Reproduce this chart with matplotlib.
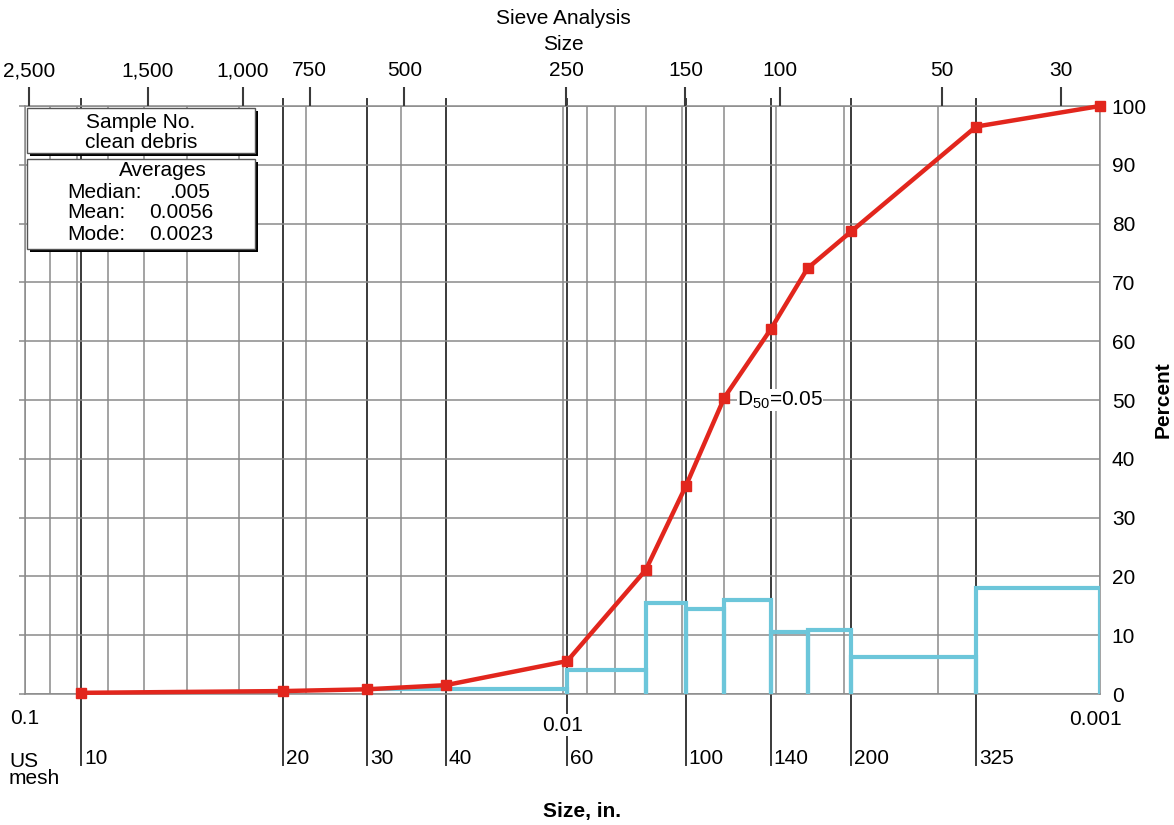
import numpy as np
import matplotlib.pyplot as plt
from matplotlib.ticker import LogLocator, NullLocator
from matplotlib.patches import Rectangle
from matplotlib.transforms import offset_copy

plt.rcParams['font.family'] = ['Liberation Sans', 'DejaVu Sans']
plt.rcParams['mathtext.fontset'] = 'custom'
plt.rcParams['mathtext.rm'] = 'Liberation Sans'
plt.rcParams['mathtext.it'] = 'Liberation Sans:italic'

# cumulative curve: particle size (in.) vs percent
size_in = [0.0787, 0.0331, 0.0231, 0.0165, 0.0098, 0.007, 0.0059, 0.005,
           0.0041, 0.0035, 0.0029, 0.0017, 0.001]
cum_pct = [0.2, 0.5, 0.8, 1.5, 5.6, 21.1, 35.3, 50.4, 62.0, 72.4, 78.7, 96.5, 100.0]

# fraction retained in each size band (blue steps)
bin_edges = [0.0231, 0.0098, 0.007, 0.0059, 0.005, 0.0041, 0.0035, 0.0029, 0.0017, 0.001]
bin_pct = [0.8, 4.1, 15.5, 14.4, 16.0, 10.6, 10.9, 6.3, 18.0]

# US sieve mesh openings (in.)
mesh_labels = ['10', '20', '30', '40', '60', '100', '140', '200', '325']
mesh_in = [0.0787, 0.0331, 0.0231, 0.0165, 0.0098, 0.0059, 0.0041, 0.0029, 0.0017]

# top scale, microns
microns = [2500, 1500, 1000, 750, 500, 250, 150, 100, 50, 30]
micron_labels = ['2,500', '1,500', '1,000', '750', '500', '250', '150', '100', '50', '30']

pct_ticks = list(range(0, 101, 10))

RED = '#e2261d'
BLUE = '#6cc6da'
GRID = '#8a8a8a'
DARK = '#3a3a3a'
FS = 15

W, H = 1174, 825
def fx(px): return px / W
def fy(py): return 1 - py / H

fig = plt.figure(figsize=(W / 100, H / 100), dpi=100)
ax = fig.add_axes([fx(25), fy(694), 1075 / W, 588 / H])
ax2 = ax.twiny()

ax.set_xscale('log')
ax.set_xlim(0.1, 0.001)
ax.set_ylim(0, 100)

# log grid (1..9 per decade)
ax.xaxis.set_major_locator(LogLocator(base=10, subs=np.arange(1, 10)))
ax.xaxis.set_minor_locator(NullLocator())
ax.tick_params(axis='x', which='both', bottom=False, top=False,
               labelbottom=False, labeltop=False)
ax.grid(True, axis='x', which='major', color=GRID, lw=1.1)

ax.set_yticks(pct_ticks)
ax.tick_params(axis='y', left=True, right=False, labelleft=False, labelright=True,
               length=4.5, width=1.1, color=GRID, pad=4, labelsize=FS)
ax.grid(True, axis='y', color=GRID, lw=1.1)
for s in ax.spines.values():
    s.set_color(GRID)
    s.set_linewidth(1.1)

# mesh lines, running down to the mesh labels
for m in mesh_in:
    ax.axvline(m, ymin=-0.12, ymax=1.012, color=DARK, lw=1.4, clip_on=False, zorder=1.5)

# top micron scale
ax2.set_xscale('log')
ax2.set_xlim(0.1, 0.001)
ax2.set_xticks(np.array(microns) / 25400.0)
ax2.set_xticklabels(micron_labels)
ax2.xaxis.set_minor_locator(NullLocator())
ax2.tick_params(axis='x', length=13.5, width=1.5, color=DARK, pad=5, labelsize=FS)
for s in ax2.spines.values():
    s.set_visible(False)

# blue band outlines
for i, h in enumerate(bin_pct):
    l, r = bin_edges[i], bin_edges[i + 1]
    ax.plot([l, l, r, r], [0, h, h, 0], color=BLUE, lw=3, zorder=3,
            solid_joinstyle='miter')

# red cumulative curve
ax.plot(size_in, cum_pct, color=RED, lw=3.2, marker='s', ms=7, zorder=5, clip_on=False)

ax.text(0.00474, 50, r'D$_{\mathrm{50}}$=0.05', fontsize=FS, ha='left', va='center',
        zorder=6, bbox=dict(facecolor='white', edgecolor='none', pad=0))

# bottom size labels
xt = ax.get_xaxis_transform()
ax.text(0.1, -0.041, '0.1', transform=xt, ha='center', va='center', fontsize=FS)
ax.text(0.01, -0.053, '0.01', transform=xt, ha='center', va='center', fontsize=FS,
        bbox=dict(facecolor='white', edgecolor='none', pad=1), zorder=4)
ax.text(0.00102, -0.044, '0.001', transform=xt, ha='center', va='center', fontsize=FS)

mt = offset_copy(xt, fig=fig, x=3, y=0, units='dots')
for m, lab in zip(mesh_in, mesh_labels):
    ax.text(m, -0.110, lab, transform=mt, ha='left', va='center', fontsize=FS)

fig.text(fx(9), fy(770), 'US\nmesh', ha='left', va='center', fontsize=FS, linespacing=0.9)
fig.text(fx(563), fy(18), 'Sieve Analysis', ha='center', va='center', fontsize=FS)
fig.text(fx(563), fy(45), 'Size', ha='center', va='center', fontsize=FS)
fig.text(fx(582), fy(812), 'Size, in.', ha='center', va='center', fontsize=FS, weight='bold')
fig.text(fx(1163), fy(400), 'Percent', ha='center', va='center', fontsize=FS,
         weight='bold', rotation=90)

# info boxes with drop shadow
def box(x0, y0, x1, y1):
    sh = Rectangle((fx(x0 + 3), fy(y1 + 3)), (x1 - x0) / W, (y1 - y0) / H,
                   transform=fig.transFigure, facecolor='black', edgecolor='none', zorder=10)
    bx = Rectangle((fx(x0), fy(y1)), (x1 - x0) / W, (y1 - y0) / H,
                   transform=fig.transFigure, facecolor='white', edgecolor='#555555',
                   lw=1, zorder=11)
    fig.add_artist(sh)
    fig.add_artist(bx)

box(27, 108, 255, 153)
box(27, 159, 255, 249)
tz = dict(fontsize=FS, va='center', zorder=12)
fig.text(fx(141), fy(122), 'Sample No.', ha='center', **tz)
fig.text(fx(141), fy(142), 'clean debris', ha='center', **tz)
fig.text(fx(163), fy(170), 'Averages', ha='center', **tz)
fig.text(fx(67), fy(192), 'Median:', ha='left', **tz)
fig.text(fx(210), fy(192), '.005', ha='right', **tz)
fig.text(fx(67), fy(213), 'Mean:', ha='left', **tz)
fig.text(fx(213), fy(213), '0.0056', ha='right', **tz)
fig.text(fx(67), fy(235), 'Mode:', ha='left', **tz)
fig.text(fx(213), fy(235), '0.0023', ha='right', **tz)

fig.savefig('out.png', dpi=100, facecolor='white')
